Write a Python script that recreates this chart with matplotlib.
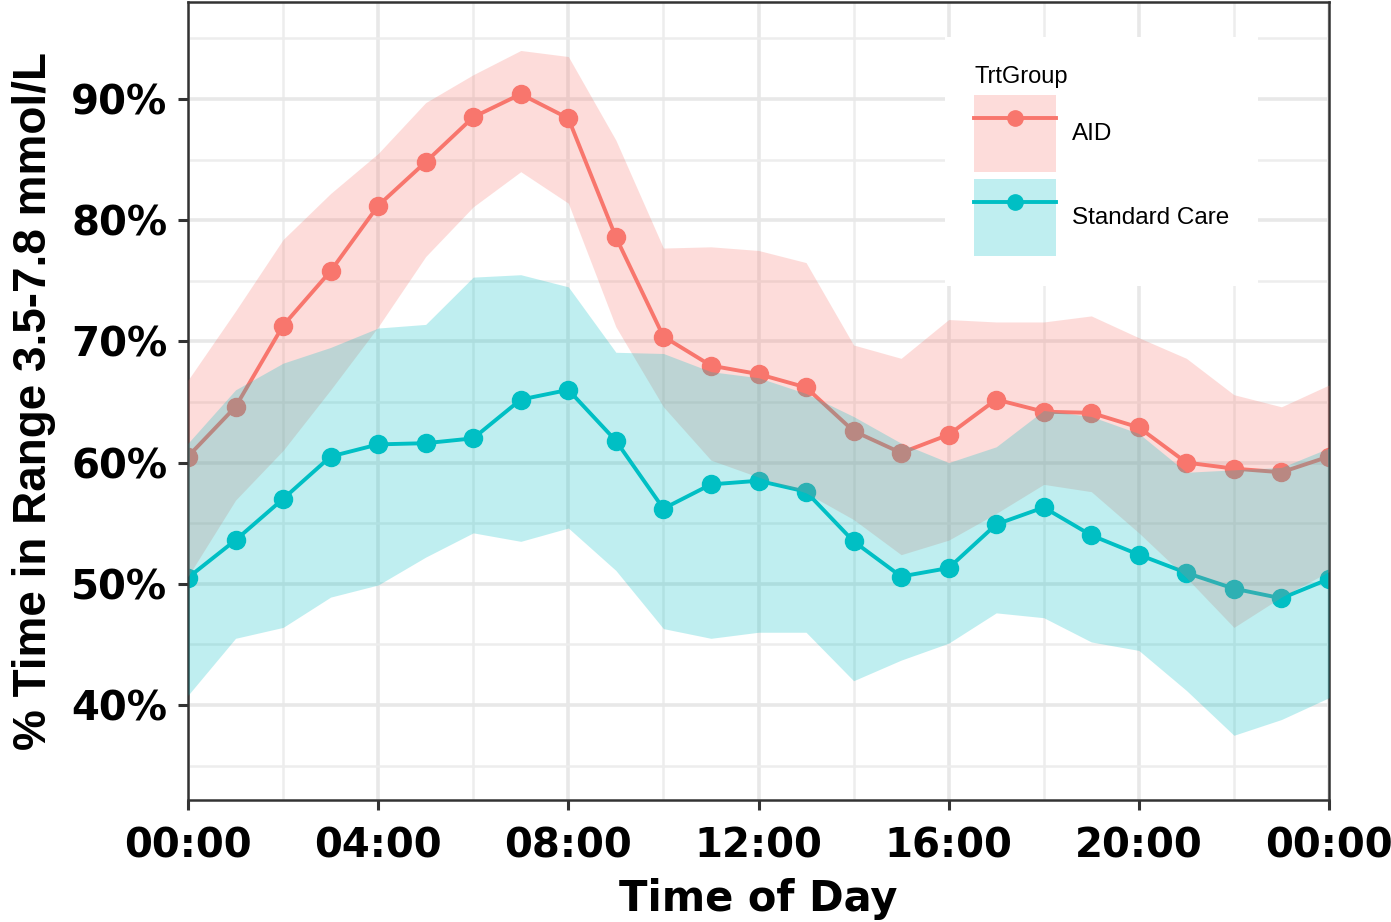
import matplotlib
matplotlib.use("Agg")
import matplotlib.pyplot as plt
from matplotlib.lines import Line2D
from matplotlib.patches import Patch
from matplotlib.ticker import MultipleLocator, FixedLocator

# hourly values (percent time in range)
hours = list(range(25))
aid_mean = [60.5, 64.6, 71.3, 75.8, 81.2, 84.8, 88.5, 90.4, 88.4, 78.6, 70.4, 68.0, 67.3,
            66.2, 62.6, 60.8, 62.3, 65.2, 64.2, 64.1, 62.9, 60.0, 59.5, 59.2, 60.5]
aid_upper = [66.8, 72.5, 78.4, 82.2, 85.5, 89.7, 92.0, 94.0, 93.5, 86.6, 77.7, 77.8, 77.5,
             76.5, 69.7, 68.6, 71.8, 71.6, 71.6, 72.1, 70.3, 68.6, 65.6, 64.6, 66.4]
aid_lower = [50.6, 56.9, 61.0, 66.0, 71.2, 77.0, 81.1, 84.0, 81.4, 71.2, 64.6, 60.2, 58.8,
             57.5, 55.3, 52.4, 53.6, 55.8, 58.2, 57.6, 54.2, 50.5, 46.4, 48.9, 51.0]
sc_mean = [50.5, 53.6, 57.0, 60.5, 61.5, 61.6, 62.0, 65.2, 66.0, 61.8, 56.2, 58.2, 58.5,
           57.6, 53.5, 50.6, 51.3, 54.9, 56.3, 54.0, 52.4, 50.9, 49.6, 48.8, 50.4]
sc_upper = [61.6, 66.0, 68.2, 69.5, 71.1, 71.4, 75.3, 75.5, 74.5, 69.1, 69.0, 67.5, 67.0,
            65.7, 63.8, 61.6, 60.0, 61.3, 64.3, 63.8, 62.4, 59.2, 59.4, 59.6, 61.2]
sc_lower = [40.8, 45.5, 46.4, 48.9, 49.9, 52.2, 54.2, 53.5, 54.6, 51.1, 46.3, 45.5, 46.0,
            46.0, 42.0, 43.7, 45.1, 47.6, 47.2, 45.2, 44.5, 41.2, 37.5, 38.8, 40.6]

groups = ["AID", "Standard Care"]
colors = ["#F8766D", "#00BFC4"]
x_ticks = [0, 4, 8, 12, 16, 20, 24]
x_labels = ["00:00", "04:00", "08:00", "12:00", "16:00", "20:00", "00:00"]
y_ticks = [40, 50, 60, 70, 80, 90]

fig = plt.figure(figsize=(13.91, 9.22), dpi=100)
ax = fig.add_axes([188 / 1391, 1 - 800 / 922, (1329 - 188) / 1391, 798 / 922])

series = [(aid_mean, aid_lower, aid_upper), (sc_mean, sc_lower, sc_upper)]

# lines first, ribbons drawn over them (as in the original)
for (m, lo, hi), c in zip(series, colors):
    ax.plot(hours, m, color=c, lw=2.8, marker="o", ms=13, zorder=2)
for (m, lo, hi), c in zip(series, colors):
    ax.fill_between(hours, lo, hi, color=c, alpha=0.25, lw=0, zorder=3)

ax.set_xlim(0, 24)
ax.set_ylim(32.16, 98.0)
ax.xaxis.set_major_locator(FixedLocator(x_ticks))
ax.xaxis.set_minor_locator(MultipleLocator(2))
ax.set_xticklabels(x_labels)
ax.yaxis.set_major_locator(FixedLocator(y_ticks))
ax.yaxis.set_minor_locator(MultipleLocator(5))
ax.set_yticklabels([f"{v}%" for v in y_ticks])

ax.grid(which="major", color="#E8E8E8", lw=2.6, zorder=0)
ax.grid(which="minor", color="#EDEDED", lw=1.8, zorder=0)
ax.set_axisbelow(True)

for s in ax.spines.values():
    s.set_color("#333333")
    s.set_linewidth(1.8)

ax.tick_params(which="major", length=7, width=2.2, color="#333333", labelsize=29,
               labelcolor="black")
ax.tick_params(axis="x", which="major", pad=12)
ax.tick_params(axis="y", which="major", pad=8)
ax.tick_params(which="minor", length=0)
for lab in ax.get_xticklabels() + ax.get_yticklabels():
    lab.set_family("DejaVu Sans")
    lab.set_fontweight("bold")

ax.set_xlabel("Time of Day", fontsize=30, fontweight="bold", labelpad=8,
              family=["DejaVu Sans"])
ax.set_ylabel("% Time in Range 3.5-7.8 mmol/L", fontsize=33, fontweight="bold",
              labelpad=11, family=["Liberation Sans", "DejaVu Sans"])

handles = [(Patch(facecolor=c, alpha=0.25, lw=0),
            Line2D([], [], color=c, lw=2.8, marker="o", ms=11)) for c in colors]
leg = ax.legend(handles, groups, title="TrtGroup", loc="upper left",
                bbox_to_anchor=(945 / 1391, 1 - 37 / 922), bbox_transform=fig.transFigure,
                borderaxespad=0, frameon=True, fancybox=False, framealpha=1,
                edgecolor="none", facecolor="white",
                prop={"family": "Liberation Sans", "size": 17.5},
                title_fontproperties={"family": "Liberation Sans", "size": 17},
                handlelength=3.37, handleheight=4.5, labelspacing=0.29,
                handletextpad=0.65, borderpad=1.2, alignment="left")
leg.set_zorder(5)

fig.savefig("out.png", dpi=100)
